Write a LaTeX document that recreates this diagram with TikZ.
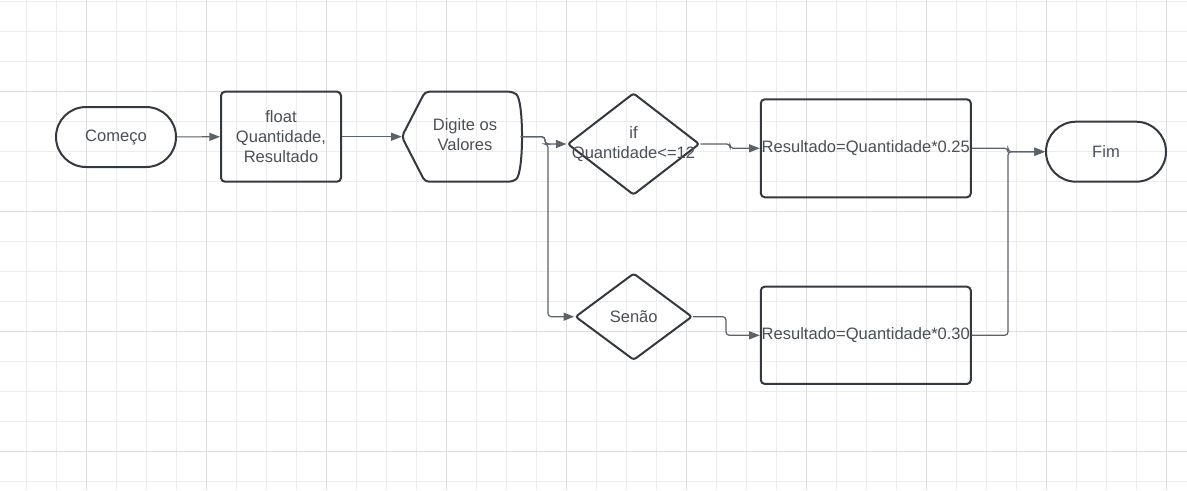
\documentclass[tikz,border=0pt]{standalone}
\usepackage{fontspec}
\setmainfont{Liberation Sans}
\usetikzlibrary{shapes.geometric,arrows.meta}
\definecolor{gridminor}{RGB}{236,236,236}
\definecolor{gridmajor}{RGB}{222,222,222}
\definecolor{shapeline}{RGB}{52,57,64}
\definecolor{textgray}{RGB}{74,80,87}
\definecolor{linkgray}{RGB}{92,98,105}

\begin{document}
\begin{tikzpicture}[x=0.75pt,y=-0.75pt,
  font=\fontsize{12.4}{15}\selectfont,
  term/.style={draw=shapeline, line width=1.5pt, rounded corners=22.5pt, minimum width=90pt, minimum height=45pt, inner sep=0pt, text=textgray, align=center},
  proc/.style={draw=shapeline, line width=1.5pt, rounded corners=3pt, minimum width=90pt, minimum height=67.5pt, inner sep=0pt, text=textgray, align=center},
  cond/.style={diamond, draw=shapeline, line width=1.5pt, rounded corners=2pt, inner sep=0pt},
  link/.style={draw=linkgray, line width=0.9pt, rounded corners=2.5pt, -{Triangle[length=8pt,width=6pt]}}]
\useasboundingbox (0,0) rectangle (1187,490);
\fill[white] (0,0) rectangle (1187,490);
\begin{scope}
\clip (0,0) rectangle (1187,490);
\foreach \i in {0,...,39} \draw[gridminor, line width=0.75pt] ({26.7+30*\i},0) -- ++(0,490);
\foreach \j in {0,...,16} \draw[gridminor, line width=0.75pt] (0,{1.7+30*\j}) -- ++(1187,0);
\foreach \i in {0,...,9} \draw[gridmajor, line width=0.75pt] ({86.7+120*\i},0) -- ++(0,490);
\foreach \j in {0,...,3} \draw[gridmajor, line width=0.75pt] (0,{91.7+120*\j}) -- ++(1187,0);
\end{scope}

\node[term] (comeco) at (116,137) {Começo};
\node[proc] (vars) at (281,136.7) {float\\Quantidade,\\Resultado};
\draw[shapeline, line width=1.5pt, rounded corners=3pt] (401.8,136.7) -- (425,91.7) -- (513,91.7)
  .. controls (524,100) and (524,173) .. (513,181.7) -- (425,181.7) -- cycle;
\node[text=textgray, align=center] (digite) at (465,134.5) {Digite os\\Valores};
\coordinate (digout) at (520.5,136.7);
\node[cond, minimum width=99pt, minimum height=76.5pt,
  label={[text=textgray, align=center]center:if\\Quantidade<=12}] (se) at (633.5,144) {};
\node[cond, minimum width=87.75pt, minimum height=65.25pt,
  label={[text=textgray]center:Senão}] (senao) at (633.7,316.7) {};
\node[proc, minimum width=157.5pt, minimum height=73.5pt] (res1) at (865.8,148.3) {Resultado=Quantidade*0.25};
\node[proc, minimum width=157.5pt, minimum height=73pt] (res2) at (865.8,335.3) {Resultado=Quantidade*0.30};
\node[term] (fim) at (1106,151.7) {Fim};

\draw[link] (comeco) -- (vars);
\draw[link] (vars) -- (vars -| 401.8,0);
\draw[link] (digout) -- (545,136.7) -- (545,144) -- (se.west);
\draw[link] (digout) -- (545,136.7) -- (545,144) -- (548,144) -- (548,316.7) -- (senao.west);
\draw[link] (se.east) -- (730,144) -- (730,148.3) -- (res1.west);
\draw[link] (senao.east) -- (726,316.7) -- (726,335.3) -- (res2.west);
\draw[link] (res1.east) -- (1008,148.3) -- (1008,151.7) -- (fim.west);
\draw[link] (res2.east) -- (1008,335.3) -- (1008,151.7) -- (fim.west);
\end{tikzpicture}
\end{document}
